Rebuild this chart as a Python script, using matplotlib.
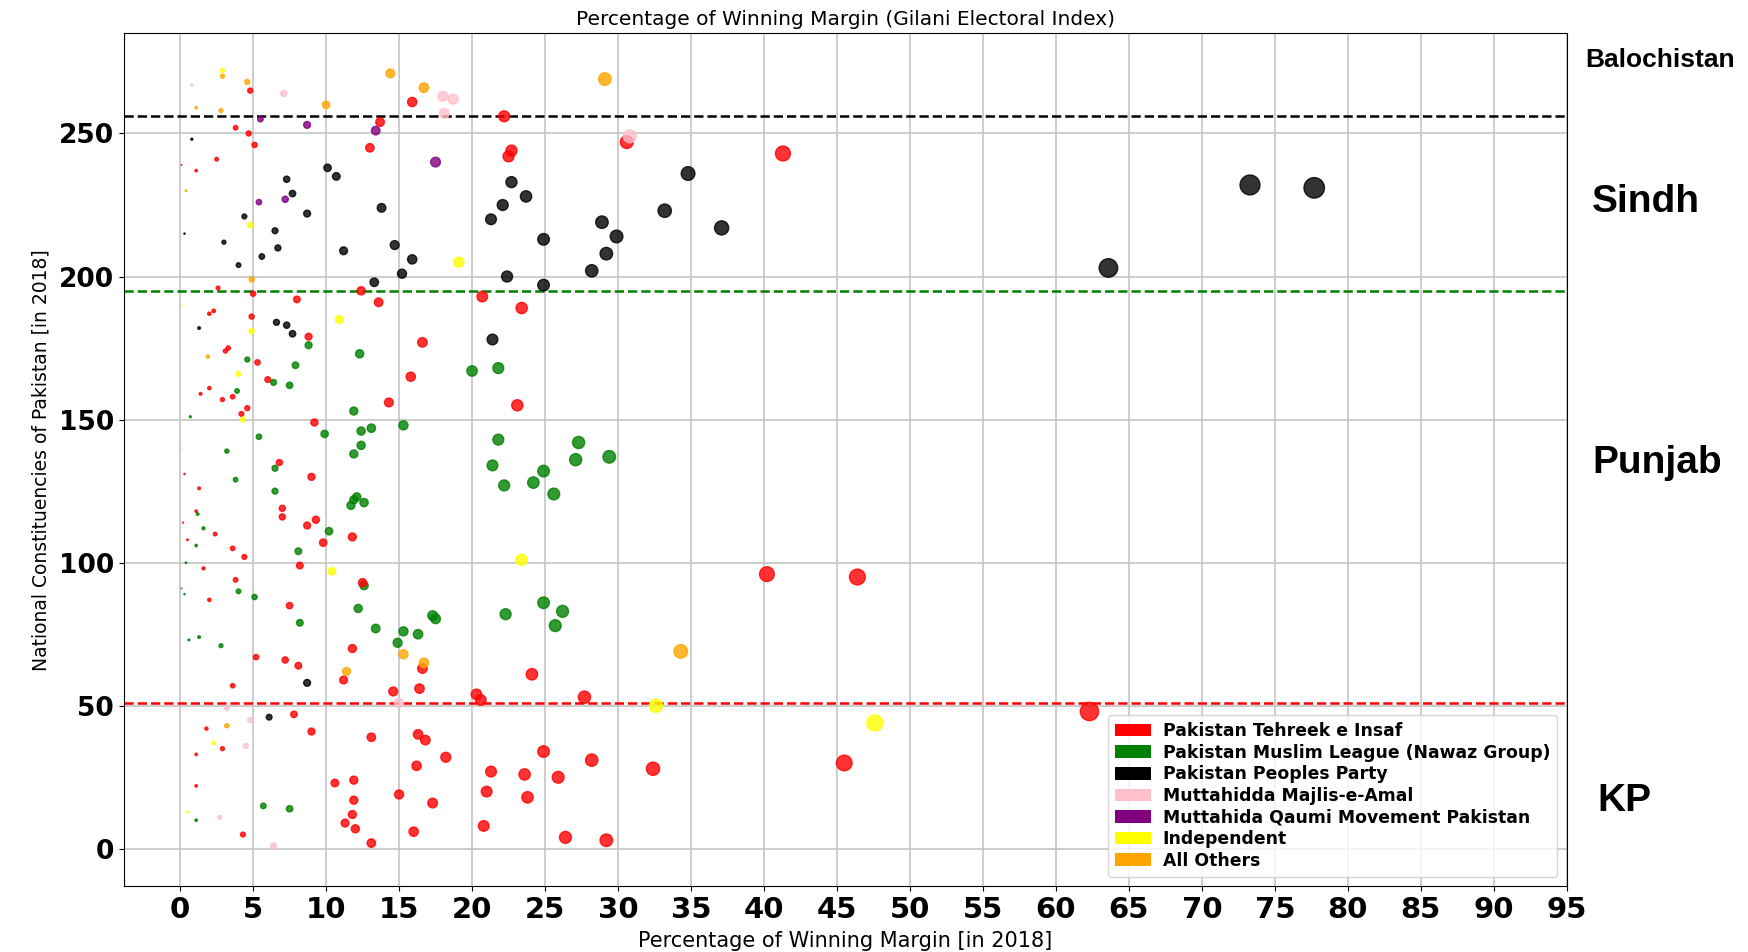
import matplotlib
matplotlib.use("Agg")
import matplotlib.pyplot as plt
from matplotlib.patches import Patch

# winning margin (%) and constituency number, per party
pti_x = [4.8, 15.9, 22.2, 3.8, 4.7, 13.7, 5.1, 13.0, 22.7, 22.5, 2.5, 0.1, 1.1, 30.6, 41.3,
         2.6, 5.0, 12.4, 8.0, 13.6, 20.7, 23.4, 2.0, 2.3, 4.9,
         8.8, 16.6, 3.1, 3.3, 5.3, 6.0, 15.8, 2.0, 1.4, 2.9, 3.6, 4.6, 4.2, 14.3, 23.1, 9.2,
         6.8, 9.0, 0.3, 1.3, 7.0, 7.0, 9.3, 8.7, 1.1, 0.2, 2.4, 0.5, 11.8, 9.8, 3.6, 4.4, 8.2, 1.6,
         40.2, 46.4, 3.8, 12.5, 2.0, 7.5, 11.8, 16.6, 11.2, 5.2, 7.2, 8.1, 3.6, 14.6, 16.4, 20.3,
         20.6, 24.1, 27.7, 62.3,
         7.8, 1.8, 9.0, 2.9, 13.1, 16.3, 16.8, 18.2, 16.2, 21.3, 23.6, 24.9, 21.0, 23.8, 1.1, 1.1,
         10.6, 11.9, 11.9, 15.0, 17.3, 11.8, 11.3, 12.0, 13.1, 16.0, 20.8, 4.3,
         25.9, 28.2, 32.4, 45.5, 26.4, 29.2]
pti_y = [265, 261, 256, 252, 250, 254, 246, 245, 244, 242, 241, 239, 237, 247, 243,
         196, 194, 195, 192, 191, 193, 189, 187, 188, 186,
         179, 177, 174, 175, 170, 164, 165, 161, 159, 157, 158, 154, 152, 156, 155, 149,
         135, 130, 131, 126, 119, 116, 115, 113, 118, 114, 110, 108, 109, 107, 105, 102, 99, 98,
         96, 95, 94, 93, 87, 85, 70, 63, 59, 67, 66, 64, 57, 55, 56, 54,
         52, 61, 53, 48,
         47, 42, 41, 35, 39, 40, 38, 32, 29, 27, 26, 34, 20, 18, 33, 22,
         23, 24, 17, 19, 16, 12, 9, 7, 2, 6, 8, 5,
         25, 31, 28, 30, 4, 3]

pmln_x = [8.8, 4.6, 7.9, 12.3, 20.0, 21.8, 6.4, 7.5, 3.9, 0.7, 11.9, 9.9, 12.4, 13.1, 15.3,
          12.4, 11.9, 21.8, 5.4, 3.2, 21.4, 22.2, 24.2, 24.9, 25.6, 6.5, 3.8, 6.5, 12.1, 11.9,
          11.7, 12.6, 1.2, 1.6, 1.1, 10.2, 8.1, 0.4,
          27.3, 27.1, 29.4,
          12.6, 0.1, 0.3, 4.0, 5.1, 8.2, 12.2, 22.3, 24.9, 26.2, 25.7, 17.3, 17.5, 13.4, 15.3,
          16.3, 14.9, 0.6, 1.3, 2.8, 5.7, 7.5, 1.1]
pmln_y = [176, 171, 169, 173, 167, 168, 163, 162, 160, 151, 153, 145, 146, 147, 148,
          141, 138, 143, 144, 139, 134, 127, 128, 132, 124, 133, 129, 125, 123, 122,
          120, 121, 117, 112, 106, 111, 104, 100,
          142, 136, 137,
          92, 91, 89, 90, 88, 79, 84, 82, 86, 83, 78, 81.5, 80.4, 77, 76,
          75, 72, 73, 74, 71, 15, 14, 10]

ppp_x = [0.8, 10.1, 10.7, 7.3, 7.7, 8.7, 13.8, 22.7, 23.7, 22.1, 21.3, 4.4, 0.3, 3.0, 6.5,
         6.7, 5.6, 4.0, 11.2, 14.7, 15.9, 15.2, 13.3, 22.4, 24.9, 24.9, 6.6, 7.3, 1.3, 7.7, 21.4,
         34.8, 33.2, 37.1, 28.9, 29.9, 29.2, 28.2, 63.6, 73.3, 77.7, 8.7, 6.1]
ppp_y = [248, 238, 235, 234, 229, 222, 224, 233, 228, 225, 220, 221, 215, 212, 216,
         210, 207, 204, 209, 211, 206, 201, 198, 200, 213, 197, 184, 183, 182, 180, 178,
         236, 223, 217, 219, 214, 208, 202, 203, 232, 231, 58, 46]

mma_x = [0.8, 7.1, 18.0, 18.7, 18.1, 30.8, 0.1, 15.0, 3.2, 4.8, 4.5, 2.7, 6.4]
mma_y = [267, 264, 263, 262, 257, 249, 140, 51, 49, 45, 36, 11, 1]

mqm_x = [5.5, 8.7, 13.4, 17.5, 5.4, 7.2]
mqm_y = [255, 253, 251, 240, 226, 227]

ind_x = [2.9, 4.8, 19.1, 0.1, 10.9, 4.9, 4.0, 4.3, 10.4, 23.4, 32.6, 47.6, 2.3, 0.5]
ind_y = [272, 218, 205, 190, 185, 181, 166, 150, 97, 101, 50, 44, 37, 13]

oth_x = [2.9, 4.6, 1.1, 2.8, 10.0, 14.4, 16.7, 0.4, 4.9, 1.9, 15.3, 16.7, 11.4, 29.1, 34.3, 3.2]
oth_y = [270, 268, 259, 258, 260, 271, 266, 230, 199, 172, 68, 65, 62, 269, 69, 43]

parties = ["Pakistan Tehreek e Insaf", "Pakistan Muslim League (Nawaz Group)",
           "Pakistan Peoples Party", "Muttahidda Majlis-e-Amal",
           "Muttahida Qaumi Movement Pakistan", "Independent", "All Others"]
colors = ["red", "green", "black", "pink", "purple", "yellow", "orange"]

# province boundaries (constituency numbers)
boundaries = [(256, "black"), (195, "green"), (51, "red")]
regions = ["Balochistan", "Sindh", "Punjab", "KP"]

fig = plt.figure(figsize=(17.48, 9.52), dpi=100)
ax = fig.add_axes([0.0709, 0.0693, 0.8254, 0.8957])

series = [(pmln_x, pmln_y, "green"), (ppp_x, ppp_y, "black"), (pti_x, pti_y, "red"),
          (mma_x, mma_y, "pink"), (mqm_x, mqm_y, "purple"), (ind_x, ind_y, "yellow"),
          (oth_x, oth_y, "orange")]
for xs, ys, c in series:
    ax.scatter(xs, ys, s=[2.8 * v for v in xs], c=c, alpha=0.8, linewidths=1, zorder=3)

for yv, c in boundaries:
    ax.axhline(yv, color=c, linestyle="--", linewidth=1.8, zorder=2)

ax.set_xlim(-3.85, 95)
ax.set_ylim(-13, 285)
ax.set_xticks(range(0, 96, 5))
ax.set_yticks(range(0, 251, 50))
ax.grid(True, color="#c0c0c0", linewidth=1.1, zorder=0)
ax.set_axisbelow(True)
for lab in ax.get_xticklabels():
    lab.set_fontsize(21)
    lab.set_fontweight("bold")
for lab in ax.get_yticklabels():
    lab.set_fontsize(19)
    lab.set_fontweight("bold")

ax.set_title("Percentage of Winning Margin (Gilani Electoral Index)", fontsize=14.5, pad=6)
ax.set_xlabel("Percentage of Winning Margin [in 2018]", fontsize=15, labelpad=5)
ax.set_ylabel("National Constituencies of Pakistan [in 2018]", fontsize=13.5, labelpad=6)

handles = [Patch(facecolor=c, label=p) for p, c in zip(parties, colors)]
ax.legend(handles=handles, loc="lower right", prop={"weight": "bold", "size": 12.4},
          labelspacing=0.21, borderpad=0.4, handlelength=2.1, handleheight=0.75,
          handletextpad=0.7, borderaxespad=0.55)

fig.text(0.9068, 0.937, regions[0], fontsize=19, fontweight="bold",
         family="Liberation Sans", va="center")
fig.text(0.9108, 0.788, regions[1], fontsize=28, fontweight="bold",
         family="Liberation Sans", va="center")
fig.text(0.9108, 0.514, regions[2], fontsize=28, fontweight="bold",
         family="Liberation Sans", va="center")
fig.text(0.9140, 0.159, regions[3], fontsize=28, fontweight="bold",
         family="Liberation Sans", va="center")

fig.savefig("out.png", dpi=100)
